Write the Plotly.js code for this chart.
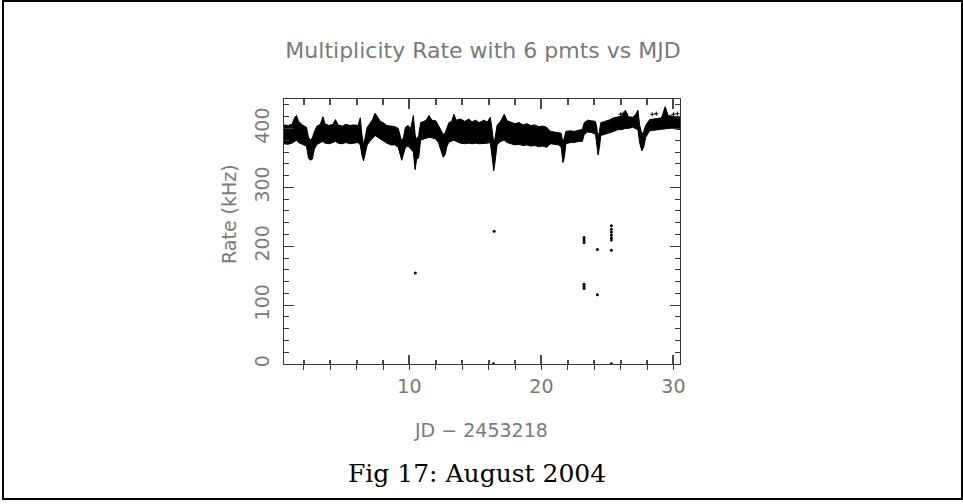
<!DOCTYPE html>
<html>
<head>
<meta charset="utf-8">
<script src="https://cdn.plot.ly/plotly-3.0.1.min.js"></script>
<style>
  html, body { margin: 0; padding: 0; background: #fff; }
  #wrap { position: relative; width: 963px; height: 504px; }
  #chart { width: 963px; height: 504px; }
  #frame { position: absolute; left: 2px; top: 0px; width: 957px; height: 496px;
           border: 2px solid #000; pointer-events: none; }
</style>
</head>
<body>
<div id="wrap"><div id="chart"></div><div id="frame"></div></div>
<script>
// ---- data (JD - 2453218, rate in kHz) ----
// envelope of the dense 6-pmt rate band
const bandDay = [0.5,0.8,1.1,1.3,1.45,1.6,1.9,2.2,2.35,2.5,2.65,2.8,3.0,3.25,3.45,3.6,3.9,4.2,4.4,4.6,4.9,5.2,5.5,5.8,6.1,6.28,6.4,6.53,6.65,6.8,7.0,7.2,7.4,7.6,7.8,8.0,8.3,8.6,8.9,9.15,9.3,9.42,9.55,9.7,9.9,10.1,10.3,10.43,10.55,10.7,
  10.85,11.1,11.3,11.48,11.7,12.0,12.2,12.4,12.56,12.7,12.85,13.0,13.2,13.37,13.55,13.87,14.2,14.5,14.75,15.0,15.3,15.63,15.9,16.13,16.25,16.39,16.5,16.64,16.9,17.19,17.4,17.7,18.0,18.3,18.6,18.9,19.2,19.5,19.8,20.1,20.4,
  20.7,21.0,21.3,21.5,21.63,21.75,21.85,22.2,22.5,22.8,23.1,23.25,23.5,23.8,24.1,24.2,24.29,24.4,24.5,24.8,25.1,25.48,25.8,26.1,26.36,26.6,26.9,27.1,27.31,27.45,27.61,27.75,27.9,28.2,28.5,28.8,29.1,29.38,29.6,29.9,30.2,30.5];
const bandHigh = [406,405,407,418,422,412,406,402,385,380,384,395,404,407,420,408,405,407,415,406,404,407,405,406,405,418,390,372,385,402,408,415,426,418,412,410,405,404,403,400,385,378,385,402,405,400,422,390,380,388,
  410,412,415,422,414,413,405,395,390,392,402,410,412,424,414,416,412,416,411,414,410,414,411,419,400,375,385,405,412,424,413,410,408,410,406,408,405,406,403,404,402,
  395,394,393,392,375,385,395,396,395,397,398,410,414,413,412,400,385,395,410,412,414,418,420,421,431,420,419,422,431,405,390,395,405,415,416,417,418,437,422,421,420,419];
const bandLow = [374,373,375,378,380,376,373,370,350,346,348,365,373,376,378,375,374,376,378,375,374,376,374,375,376,372,355,345,358,372,378,384,388,385,382,380,375,372,372,368,355,346,356,368,370,365,360,330,348,350,
  380,382,383,385,384,382,376,362,351,355,370,377,378,380,378,375,374,375,374,375,374,374,375,376,350,328,345,372,378,380,376,374,372,373,371,372,370,371,369,370,368,
  374,373,372,368,342,352,374,376,376,378,378,390,394,393,390,372,355,368,388,390,392,395,398,398,400,400,402,400,398,375,362,368,385,396,397,398,398,400,400,400,399,398];

// isolated readings away from the band
const strayDay  = [10.45,16.42,23.23,23.23,23.23,23.23,23.23,23.23,24.24,24.24,25.3,25.3,25.3,25.3,25.3,25.3,25.3];
const strayRate = [154.6,225.5,214.8,210.5,206.3,135.3,131.5,128.0,194.4,117.8,234.6,229.0,224.0,219.0,214.5,210.7,193.2];
// small marks just above the band
const topDay    = [26.0,26.2,28.4,28.7,30.0,30.3];
const topRate   = [424,425,424,425,424,425];
// readings at zero rate
const zeroDay   = [16.37,25.3];
const zeroRate  = [0.5,0.5];

const titleText  = "Multiplicity Rate with 6 pmts vs MJD";
const xTitleText = "JD \u2212 2453218";
const yTitleText = "Rate (kHz)";
const caption    = "Fig 17: August 2004";

const thin = "DejaVu Sans, Liberation Sans, sans-serif";
const grey = "#7a7a7a";
const axisCol = "#3a3a3a";
const tickCol = "#4a4a4a";

const traces = [
  {x: bandDay, y: bandLow, type: "scatter", mode: "lines",
   line: {color: "#000", width: 1}, hoverinfo: "skip", showlegend: false},
  {x: bandDay, y: bandHigh, type: "scatter", mode: "lines", fill: "tonexty",
   fillcolor: "#000", line: {color: "#000", width: 1}, showlegend: false},
  {x: strayDay, y: strayRate, xaxis: "x3", type: "scatter", mode: "markers",
   marker: {color: "#000", size: 3}, showlegend: false},
  {x: zeroDay, y: zeroRate, xaxis: "x2", type: "scatter", mode: "markers",
   marker: {color: "#000", size: 3}, showlegend: false},
  {x: topDay, y: topRate, xaxis: "x4", type: "scatter", mode: "markers",
   marker: {color: "#000", size: 3, symbol: "cross-thin", line: {color: "#000", width: 1}}, showlegend: false}
];

const xRange = [0.5, 30.5];

const layout = {
  width: 963, height: 504,
  margin: {l: 284, r: 283, t: 99, b: 140},
  paper_bgcolor: "#fff", plot_bgcolor: "rgba(0,0,0,0)",
  showlegend: false,
  font: {family: thin, color: grey, size: 19},
  title: {text: titleText, font: {family: thin, size: 22, color: grey},
          xref: "paper", x: (483-284)/396, xanchor: "center",
          yref: "container", y: 1 - 50/504, yanchor: "middle"},
  // bottom axis: short upward ticks every 2 days, frame line
  xaxis: {range: xRange, tick0: 0, dtick: 2, ticks: "inside", ticklen: 4, tickwidth: 2,
          tickcolor: tickCol, showline: true, linecolor: axisCol, linewidth: 1,
          mirror: true, showgrid: false, zeroline: false, showticklabels: false},
  // bottom axis: long upward ticks every 10 days
  xaxis4: {range: xRange, overlaying: "x", anchor: "y", side: "bottom",
           tick0: 0, dtick: 10, ticks: "inside", ticklen: 9, tickwidth: 2, tickcolor: tickCol,
           showline: false, showgrid: false, zeroline: false, showticklabels: false},
  // bottom axis: downward part of the ticks + labels
  xaxis2: {range: xRange, overlaying: "x", anchor: "y", side: "bottom",
           tick0: 0, dtick: 10, ticks: "outside", ticklen: 5, tickcolor: axisCol,
           showline: false, showgrid: false, zeroline: false,
           tickfont: {family: thin, size: 19, color: grey},
           minor: {dtick: 2, tick0: 0, ticks: "outside", ticklen: 5, tickcolor: axisCol, showgrid: false}},
  // top axis: hanging ticks
  xaxis3: {range: xRange, overlaying: "x", anchor: "y", side: "top",
           tick0: 0, dtick: 10, ticks: "inside", ticklen: 10, tickwidth: 2, tickcolor: tickCol,
           showline: false, showgrid: false, zeroline: false, showticklabels: false,
           minor: {dtick: 2, tick0: 0, ticks: "inside", ticklen: 6, tickwidth: 2, tickcolor: tickCol, showgrid: false}},
  yaxis: {range: [0, 450], tick0: 0, dtick: 100, ticks: "inside", ticklen: 10,
          tickcolor: axisCol, showline: true, linecolor: axisCol, linewidth: 1,
          mirror: "ticks", showgrid: false, zeroline: false,
          minor: {dtick: 20, tick0: 0, ticks: "inside", ticklen: 5, tickcolor: axisCol, showgrid: false},
          tickangle: -90, ticklabelstandoff: 6,
          tickfont: {family: thin, size: 19, color: grey}},
  annotations: [
    {text: yTitleText, xref: "paper", yref: "paper", x: (229-284)/396, y: (364-214)/265,
     xanchor: "center", yanchor: "middle", textangle: -90, showarrow: false,
     font: {family: thin, size: 19, color: grey}},
    {text: xTitleText, xref: "paper", yref: "paper", x: (481-284)/396, y: (364-430)/265,
     xanchor: "center", yanchor: "middle", showarrow: false,
     font: {family: thin, size: 19, color: grey}},
    {text: caption, xref: "paper", yref: "paper", x: (477-284)/396, y: (364-473)/265,
     xanchor: "center", yanchor: "middle", showarrow: false,
     font: {family: "DejaVu Serif, Liberation Serif, serif", size: 25, color: "#000"}}
  ]
};

Plotly.newPlot("chart", traces, layout, {staticPlot: true, displayModeBar: false});
</script>
</body>
</html>
